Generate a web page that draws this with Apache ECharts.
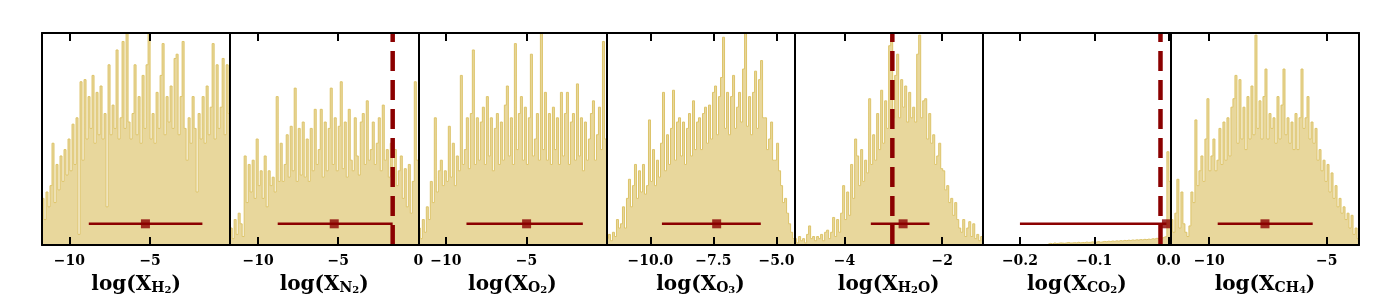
<!DOCTYPE html>
<html><head><meta charset="utf-8">
<script src="https://cdn.jsdelivr.net/npm/echarts@6/dist/echarts.min.js"></script>
<style>html,body{margin:0;padding:0;background:#fff}#c{width:1400px;height:300px}</style>
</head><body><div id="c"></div>
<script>
// ---- data ----
const species = ['H2', 'N2', 'O2', 'O3', 'H2O', 'CO2', 'CH4'];
const axisNames = [
  '{a|log(X}{s|H}{t|2}{a|)}',
  '{a|log(X}{s|N}{t|2}{a|)}',
  '{a|log(X}{s|O}{t|2}{a|)}',
  '{a|log(X}{s|O}{t|3}{a|)}',
  '{a|log(X}{s|H}{t|2}{s|O}{a|)}',
  '{a|log(X}{s|CO}{t|2}{a|)}',
  '{a|log(X}{s|CH}{t|4}{a|)}'
];
const xMin = [-11.7, -11.75, -11.7, -11.74, -5.02, -0.25, -11.63];
const xMax = [-0.04, 0.0, -0.06, -4.28, -1.17, 0.003, -3.63];
const tickValues = [[-10, -5], [-10, -5, 0], [-10, -5], [-10, -7.5, -5], [-4, -2], [-0.2, -0.1, 0], [-10, -5]];
const tickDecimals = [0, 0, 0, 1, 0, 1, 0];

const hH2 = [22,12,25,18,28,48, 20,38,26,42,30, 45,33,50,35,57, 38,60,5,77,40, 78,50,70,55,80,
  48,72,52,75,50, 62,18,85,52,66, 55,92,50,60,96, 55,100,58,50,62, 85,52,70,48,80, 55,85,100,50,62,
  48,72,55,80,95, 52,70,58,75,55, 88,90,52,70,96, 55,40,60,48,70, 55,25,62,50,70, 48,75,52,65,95,
  50,85,55,65,88, 52,85,62];
const hN2 = [8,3,12,5,15,10, 4,42,20,38,25, 40,22,50,28,35, 22,42,18,35,28, 32,25,70,30,48,
  30,38,52,32,56, 35,74,30,55,33, 58,32,50,30,55, 35,64,38,45,64, 32,58,35,55,74, 38,60,35,56,77,
  36,58,32,64,40, 35,60,42,33,58, 62,38,68,40,45, 58,38,48,60,35, 66,40,45,32,48, 30,45,28,35,42,
  22,36,18,38,15, 30,77,40];
const hO2 = [8,3,12,6,18,12, 30,20,60,25,35, 40,28,35,30,56, 32,48,28,42,35, 80,38,45,60,36,
  62,92,38,60,40, 58,65,38,70,42, 60,35,55,62,38, 58,40,66,75,42, 60,38,95,45,62, 70,40,65,38,60,
  90,42,50,62,40, 100,45,72,40,62, 38,65,45,60,38, 72,42,62,72,38, 58,62,40,76,42, 60,35,58,40,50,
  62,68,40,52,65, 45,96,50];
const hO3 = [3,5,2,6,4,12, 8,10,18,8,22, 31,18,28,38,22, 35,25,38,24,28, 59,30,45,28,40, 32,48,72,35,52,
  38,55,73,40,58, 60,42,58,38,55, 62,42,68,45,58, 60,45,62,65,48, 66,50,72,75,52, 70,79,98,55,72,
  52,70,80,55,65, 72,58,83,100,56, 70,52,72,82,55, 78,87,60,60,45, 50,58,40,40,48, 35,28,20,22,15,
  10,6,3];
const hH2O = [3,1,4,2,3,1, 5,9,3,4,2, 4,3,5,2,6, 7,3,6,13,4, 12,6,15,28,12, 25,14,38,22,50,
  42,28,45,30,40, 34,69,38,52,40, 62,45,73,48,68, 55,94,98,60,80, 90,60,78,65,75, 58,72,60,65,58,
  90,99,60,68,69, 50,62,48,52,38, 42,48,36,35,26, 28,20,22,14,20, 12,8,6,12,4, 8,11,4,10,3, 5,2,4];
const hCO2 = [0,0,0,0,0,0,0,0,0,0,0,0,0,0,0,0,0,0,0,0,0,0,0,0,0,0,0,0,0,0,0,0,
  0.5,0.8,0.5,1,0.7,0.8,1,0.9,0.8,1,1.2,0.9,1,1.1,1,1.3,1,1.2,1.1,1.4,1.2,1.3,1.5,1.2,1.4,1.6,1.3,1.5,1.7,
  1.5,1.8,1.6,1.9,1.7,2,1.8,2.1,1.9,2.2,2,2.3,2.1,2.4,2.2,2.5,2.3,2.6,2.4,2.7,2.5,2.8,2.6,3,2.8,
  3.2,3,3.5,3.3,3.8,4, 44,30];
const hCH4 = [12,6,15,31,8,25, 10,6,4,9,25, 20,59,28,35,42, 30,50,69,35,42, 50,35,40,55,38,
  58,40,60,42,65, 69,80,48,78,50, 65,45,70,50,75, 52,99,55,68,50, 70,83,50,62,55, 60,48,70,50,66,
  83,52,60,48,58, 45,62,45,60,83, 55,60,70,50,58, 48,55,40,45,35, 40,30,38,25,34, 22,28,18,22,15,
  18,12,15,8,14, 5,8,3];
const hists = [hH2, hN2, hO2, hO3, hH2O, hCO2, hCH4];

const errLo = [-8.8, -8.78, -8.72, -9.54, -3.46, -0.2, -9.64];
const errHi = [-1.76, -1.6, -1.52, -5.62, -2.26, -0.003, -5.6];
const errMid = [-5.29, -5.25, -5.0, -7.37, -2.80, -0.003, -7.63];
const errLevel = [10, 10, 10, 10, 10, 10, 10];
const dashX = [null, -1.6, null, null, -3.02, -0.011, null];

// ---- chart ----
const FONT = 'DejaVu Serif';
const rich = {
  a: {fontFamily: FONT, fontWeight: 'bold', fontSize: 20, lineHeight: 24, verticalAlign: 'bottom', color: '#000'},
  s: {fontFamily: FONT, fontWeight: 'bold', fontSize: 14, lineHeight: 18, verticalAlign: 'bottom', color: '#000'},
  t: {fontFamily: FONT, fontWeight: 'bold', fontSize: 10, lineHeight: 10, verticalAlign: 'bottom', color: '#000'}
};
const grids = [], xAxes = [], yAxes = [], series = [];
const L0 = 42, W = 188.15, TOP = 33, H = 212;
const black = {color: '#000', width: 2};
for (let i = 0; i < 7; i++) {
  grids.push({left: L0 + i * W, top: TOP, width: W, height: H, containLabel: false});
  const dec = tickDecimals[i];
  const fmt = v => (v < -1e-9 ? '\u2212' : '') + Math.abs(v).toFixed(dec);
  xAxes.push({
    gridIndex: i, type: 'value', min: xMin[i], max: xMax[i], position: 'bottom', z: 10,
    axisLine: {show: true, onZero: false, lineStyle: black},
    axisTick: {show: true, inside: true, length: 8, lineStyle: black, customValues: tickValues[i]},
    axisLabel: {show: true, customValues: tickValues[i], formatter: fmt, margin: 9,
      fontFamily: FONT, fontWeight: 'bold', fontSize: 14, color: '#000'},
    splitLine: {show: false},
    name: axisNames[i], nameLocation: 'middle', nameGap: 26, nameTextStyle: {rich: rich}
  });
  xAxes.push({
    gridIndex: i, type: 'value', min: xMin[i], max: xMax[i], position: 'top', z: 10,
    axisLine: {show: true, onZero: false, lineStyle: black},
    axisTick: {show: true, inside: true, length: 8, lineStyle: black, customValues: tickValues[i]},
    axisLabel: {show: false}, splitLine: {show: false}
  });
  yAxes.push({gridIndex: i, type: 'value', min: 0, max: 100, position: 'left', z: 10,
    axisLine: {show: true, onZero: false, lineStyle: black}, axisTick: {show: false}, axisLabel: {show: false}, splitLine: {show: false}});
  yAxes.push({gridIndex: i, type: 'value', min: 0, max: 100, position: 'right', z: 10,
    axisLine: {show: true, onZero: false, lineStyle: black}, axisTick: {show: false}, axisLabel: {show: false}, splitLine: {show: false}});

  const h = hists[i], n = h.length, bw = (xMax[i] - xMin[i]) / n;
  const pts = h.map((v, k) => [xMin[i] + k * bw, v]);
  pts.push([xMax[i], h[n - 1]]);
  const xi = 2 * i, yi = 2 * i;
  series.push({type: 'line', xAxisIndex: xi, yAxisIndex: yi, step: 'end', data: pts, symbol: 'none',
    lineStyle: {color: '#ddc46a', width: 1}, areaStyle: {color: '#e8d79c', opacity: 1}, z: 2, silent: true});
  if (dashX[i] !== null) {
    series.push({type: 'line', xAxisIndex: xi, yAxisIndex: yi, data: [[dashX[i], 0], [dashX[i], 100]], symbol: 'none',
      lineStyle: {color: '#8b0000', width: 4.5, type: [20, 9]}, z: 4, silent: true});
  }
  series.push({type: 'line', xAxisIndex: xi, yAxisIndex: yi, data: [[errLo[i], errLevel[i]], [errHi[i], errLevel[i]]], symbol: 'none',
    lineStyle: {color: '#8b0000', width: 2.5}, z: 5, silent: true});
  series.push({type: 'scatter', xAxisIndex: xi, yAxisIndex: yi, data: [[errMid[i], errLevel[i]]], symbol: 'rect', symbolSize: 9,
    itemStyle: {color: '#8b0000'}, z: 6, silent: true, clip: false});
}
const chart = echarts.init(document.getElementById('c'), null, {renderer: 'canvas'});
chart.setOption({animation: false, grid: grids, xAxis: xAxes, yAxis: yAxes, series: series});
</script>
</body></html>
